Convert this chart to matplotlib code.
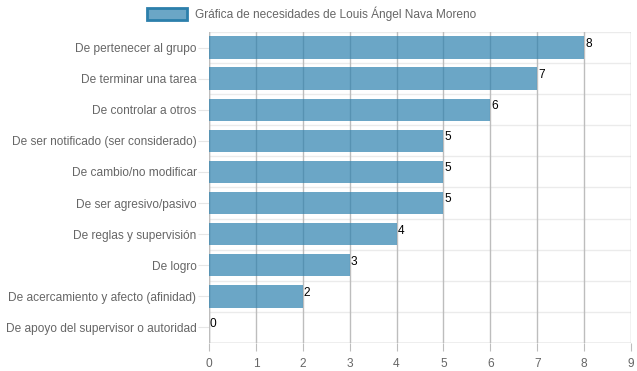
import matplotlib.pyplot as plt
from matplotlib.patches import Rectangle

plt.rcParams['font.family'] = ['Liberation Sans', 'DejaVu Sans']

categorias = [
    "De pertenecer al grupo",
    "De terminar una tarea",
    "De controlar a otros",
    "De ser notificado (ser considerado)",
    "De cambio/no modificar",
    "De ser agresivo/pasivo",
    "De reglas y supervisión",
    "De logro",
    "De acercamiento y afecto (afinidad)",
    "De apoyo del supervisor o autoridad",
]
valores = [8, 7, 6, 5, 5, 5, 4, 3, 2, 0]
ticks_x = list(range(0, 10))
titulo = "Gráfica de necesidades de Louis Ángel Nava Moreno"

W, H = 637, 371
fig = plt.figure(figsize=(W / 100, H / 100), dpi=100)
ax = fig.add_axes([209 / W, 1 - 343 / H, (631 - 209) / W, (343 - 32) / H])

n = len(categorias)
pos = list(range(n))
ax.barh(pos, valores, height=0.72, color=(44 / 255, 129 / 255, 174 / 255, 0.7),
        zorder=3)

# etiquetas de valor
for p, v in zip(pos, valores):
    ax.text(v + 0.02, p - 0.31, str(v), fontsize=8.6, color='black',
            ha='left', va='top', zorder=4)

ax.set_xlim(0, 9)
ax.set_ylim(n - 0.5, -0.5)
ax.set_xticks(ticks_x)
ax.set_yticks(pos)
ax.set_yticklabels(categorias)
ax.tick_params(axis='y', labelsize=8.6, labelcolor='#666666', color='#e6e6e6',
               length=8, pad=1)
ax.tick_params(axis='x', labelsize=8.6, labelcolor='#666666', color='#bdbdbd',
               length=6, pad=5)

# rejilla
for x in ticks_x:
    ax.axvline(x, color='#bdbdbd', lw=1, zorder=1)
for y in [i - 0.5 for i in range(n + 1)]:
    ax.axhline(y, color='#ebebeb', lw=1, zorder=0)
for s in ax.spines.values():
    s.set_visible(False)
ax.axvline(0, color='#bdbdbd', lw=1, zorder=2)
ax.axhline(n - 0.5, color='#bdbdbd', lw=1, zorder=2)

# leyenda
fig.patches.append(Rectangle((147 / W, 1 - 20 / H), 40 / W, 12 / H,
                             transform=fig.transFigure,
                             facecolor=(44 / 255, 129 / 255, 174 / 255, 0.7),
                             edgecolor='#2c7fab', lw=2))
fig.text(195 / W, 1 - 14 / H, titulo, fontsize=8.6, color='#666666',
         ha='left', va='center')

fig.savefig('out.png', dpi=100)
